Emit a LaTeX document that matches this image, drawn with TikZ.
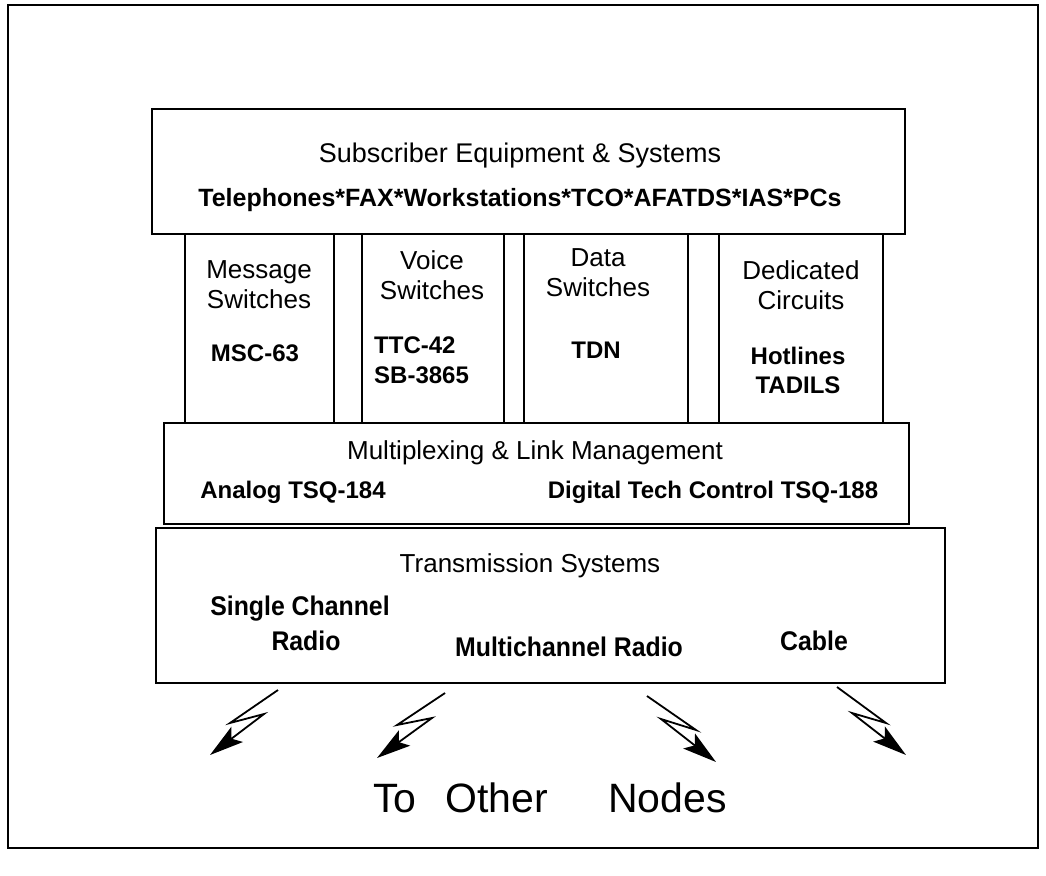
\documentclass[tikz,border=0pt]{standalone}
\usepackage{fontspec}
\setmainfont{Liberation Sans}
\newfontfamily\nb[FakeStretch=0.92]{Liberation Sans}
\usetikzlibrary{arrows.meta}
\tikzset{
  frame/.style={draw, line width=1.3pt},
  box/.style={draw, line width=1.8pt, anchor=north west, inner sep=0pt},
  ttl/.style={inner sep=0pt, font=\fontsize{26}{30}\selectfont, align=center},
  itm/.style={inner sep=0pt, font=\fontsize{24}{30}\selectfont\bfseries, align=center},
  nitm/.style={inner sep=0pt, font=\fontsize{27}{32}\selectfont\nb\bfseries, align=center},
  bolt/.style={line width=1.8pt, line join=miter, -{Stealth[length=34pt,width=19pt,inset=7pt]}},
}
\begin{document}
\begin{tikzpicture}[x=1pt,y=-1pt]
\useasboundingbox (0,0) rectangle (1046,875);
\draw[frame] (8,5) rectangle (1038,848);
% boxes
\node[box, minimum width=753pt, minimum height=125pt] (sub) at (151,108) {};
\node[box, minimum width=149pt, minimum height=189pt] (msg) at (184,233) {};
\node[box, minimum width=142pt, minimum height=189pt] (voi) at (361,233) {};
\node[box, minimum width=164pt, minimum height=189pt] (dat) at (523,233) {};
\node[box, minimum width=164pt, minimum height=189pt] (ded) at (718,233) {};
\node[box, minimum width=745pt, minimum height=101pt] (mux) at (163,422) {};
\node[box, minimum width=789pt, minimum height=155pt] (trn) at (155,527) {};
% texts
\node[ttl, font=\fontsize{27}{30}\selectfont] (subt) at (520,156) {Subscriber Equipment \& Systems};
\node[itm, font=\fontsize{25}{30}\selectfont\bfseries] (subi) at (520,200) {Telephones*FAX*Workstations*TCO*AFATDS*IAS*PCs};
\node[ttl] (msgt) at (259,285) {Message\\Switches};
\node[itm] (msgi) at (255,353) {MSC-63};
\node[ttl] (voit) at (432,275) {Voice\\Switches};
\node[itm, anchor=west, align=left] (voii) at (374,360) {TTC-42\\SB-3865};
\node[ttl] (datt) at (598,273) {Data\\Switches};
\node[itm] (dati) at (596,350) {TDN};
\node[ttl] (dedt) at (801,285) {Dedicated\\Circuits};
\node[itm, font=\fontsize{24}{29}\selectfont\bfseries] (dedi) at (798,370) {Hotlines\\TADILS};
\node[ttl] (muxt) at (535,453) {Multiplexing \& Link Management};
\node[itm] (muxa) at (293,492) {Analog TSQ-184};
\node[itm] (muxd) at (713,492) {Digital Tech Control TSQ-188};
\node[ttl] (trnt) at (530,566) {Transmission Systems};
\node[nitm] (scr1) at (300,609) {Single Channel};
\node[nitm] (scr2) at (306,641) {Radio};
\node[nitm] (mcr) at (569,647) {Multichannel Radio};
\node[nitm] (cab) at (814,641) {Cable};
\node[inner sep=0pt, font=\fontsize{41}{45}\selectfont, anchor=base west] (to) at (373,812) {To};
\node[inner sep=0pt, font=\fontsize{41}{45}\selectfont, anchor=base west] (oth) at (445,812) {Other};
\node[inner sep=0pt, font=\fontsize{41}{45}\selectfont, anchor=base west] (nod) at (608,812) {Nodes};
% lightning bolts
\coordinate (b1s) at (278,690); \coordinate (b1a) at (230,723); \coordinate (b1b) at (264,714); \coordinate (b1e) at (210,755);
\coordinate (b2s) at (445,693); \coordinate (b2a) at (397,725); \coordinate (b2b) at (432,718); \coordinate (b2e) at (377,758);
\coordinate (b3s) at (647,696); \coordinate (b3a) at (696,730); \coordinate (b3b) at (661,719); \coordinate (b3e) at (716,762);
\coordinate (b4s) at (837,687); \coordinate (b4a) at (886,723); \coordinate (b4b) at (852,713); \coordinate (b4e) at (906,755);
\draw[bolt] (b1s) -- (b1a) -- (b1b) -- (b1e);
\draw[bolt] (b2s) -- (b2a) -- (b2b) -- (b2e);
\draw[bolt] (b3s) -- (b3a) -- (b3b) -- (b3e);
\draw[bolt] (b4s) -- (b4a) -- (b4b) -- (b4e);
\end{tikzpicture}
\end{document}
